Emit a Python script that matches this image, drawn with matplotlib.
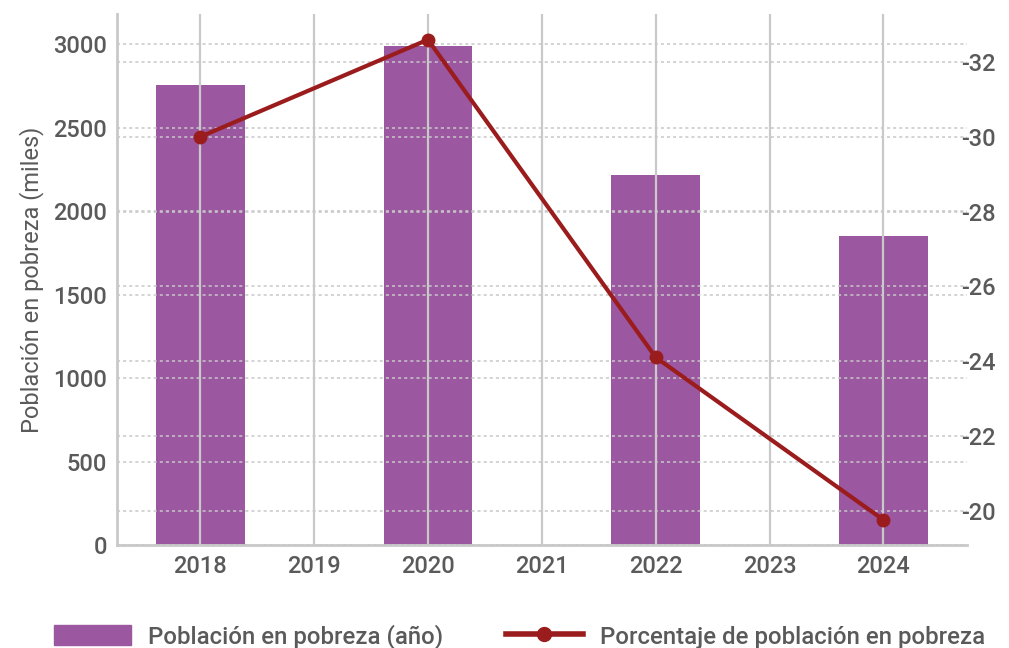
import numpy as np
import matplotlib.pyplot as plt
from matplotlib.lines import Line2D
from matplotlib.patches import Patch

plt.rcParams['font.family'] = ['Roboto', 'DejaVu Sans']
plt.rcParams['font.weight'] = 'medium'
plt.rcParams['axes.unicode_minus'] = False

years = [2018, 2019, 2020, 2021, 2022, 2023, 2024]
bar_years = [2018, 2020, 2022, 2024]
poblacion = [2755, 2988, 2215, 1850]
pct_years = [2018, 2020, 2022, 2024]
porcentaje = [-30.0, -32.6, -24.1, -19.75]
right_ticks = [-32, -30, -28, -26, -24, -22, -20]

purple = '#9b57a0'
red = '#9a1c1c'
txt = '#5a5a5a'
grid_c = '#c8c8c8'
fs = 17

fig = plt.figure(figsize=(10.09, 6.48), dpi=100)
ax = fig.add_axes([0.116, 0.159, 0.842, 0.819])
ax2 = ax.twinx()

ax.bar(bar_years, poblacion, width=0.78, color=purple, zorder=1)
ax.set_xlim(2017.27, 2024.73)
ax.set_ylim(0, 3180)
ax.set_yticks(np.arange(0, 3001, 500))
ax.set_xticks(years)
ax.set_axisbelow(False)
ax.grid(axis='y', linestyle=(0, (2, 2)), color=grid_c, lw=1.1)
ax.grid(axis='x', linestyle='-', color='#c9c9c9', lw=1.6)

ax2.plot(pct_years, porcentaje, color=red, lw=3, marker='o', ms=9, zorder=5)
ax2.set_ylim(-19.08, -33.28)
ax2.set_yticks(right_ticks)
ax2.grid(axis='y', linestyle=(0, (2, 2)), color=grid_c, lw=1.1)

for a in (ax, ax2):
    for s in a.spines.values():
        s.set_visible(False)
    a.tick_params(length=0, labelsize=fs, labelcolor=txt)
ax.spines['left'].set_visible(True)
ax.spines['left'].set_color('#c9c9c9')
ax.spines['left'].set_linewidth(2)
ax.spines['bottom'].set_visible(True)
ax.spines['bottom'].set_color('#c9c9c9')
ax.spines['bottom'].set_linewidth(2)
ax.tick_params(axis='y', pad=7)
ax.tick_params(axis='x', pad=7)
ax2.tick_params(axis='y', pad=-4)

ax.set_ylabel('Población en pobreza (miles)', fontsize=fs, color=txt, labelpad=7)

handles = [Patch(color=purple),
           Line2D([], [], color=red, lw=4, marker='o', ms=10)]
labels = ['Población en pobreza (año)', 'Porcentaje de población en pobreza']
fig.legend(handles, labels, loc='lower center', bbox_to_anchor=(0.515, -0.035), ncol=2,
           frameon=False, fontsize=17.3, labelcolor=txt, handlelength=3.2,
           handleheight=0.9, columnspacing=2.6, handletextpad=0.72)

fig.savefig('out.png', dpi=100)
